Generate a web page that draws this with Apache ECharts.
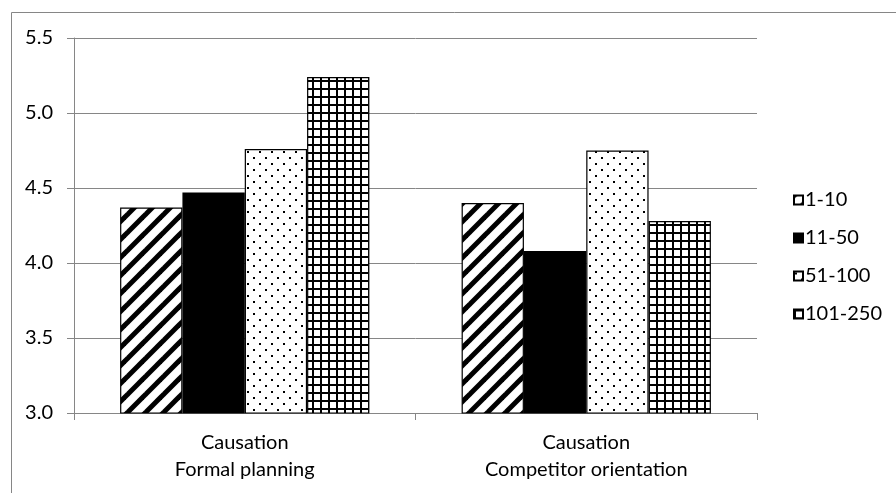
<!DOCTYPE html>
<html>
<head>
<meta charset="utf-8">
<script src="https://cdn.jsdelivr.net/npm/echarts@6/dist/echarts.min.js"></script>
<style>html,body{margin:0;padding:0;background:#fff;}#c{width:896px;height:493px;}</style>
</head>
<body>
<div id="c"></div>
<script>
var categories = ['Causation\nFormal planning', 'Causation\nCompetitor orientation'];
var seriesNames = ['1-10', '11-50', '51-100', '101-250'];
var values1to10 = [4.37, 4.40];
var values11to50 = [4.47, 4.08];
var values51to100 = [4.76, 4.75];
var values101to250 = [5.24, 4.28];
var yTicks = [3.0, 3.5, 4.0, 4.5, 5.0, 5.5];

function makeCanvas(w, h, draw) {
  var c = document.createElement('canvas');
  c.width = w; c.height = h;
  var ctx = c.getContext('2d');
  ctx.fillStyle = '#fff';
  ctx.fillRect(0, 0, w, h);
  draw(ctx, w, h);
  return c;
}
var stripes = makeCanvas(18, 18, function (ctx, w, h) {
  ctx.strokeStyle = '#000';
  ctx.lineWidth = 5;
  for (var k = -1; k <= 1; k++) {
    ctx.beginPath();
    ctx.moveTo(-2 + k * w, h + 2);
    ctx.lineTo(w + 2 + k * w, -2);
    ctx.stroke();
  }
});
var dots = makeCanvas(12, 12, function (ctx) {
  ctx.fillStyle = '#000';
  ctx.fillRect(1, 1, 2, 2);
  ctx.fillRect(7, 7, 2, 2);
});
var grid = makeCanvas(8, 8, function (ctx) {
  ctx.fillStyle = '#000';
  ctx.fillRect(0, 0, 8, 2);
  ctx.fillRect(0, 0, 2, 8);
});

var fills = [
  { image: stripes, repeat: 'repeat' },
  '#000',
  { image: dots, repeat: 'repeat' },
  { image: grid, repeat: 'repeat' }
];
var dataSets = [values1to10, values11to50, values51to100, values101to250];

var font = 'Lato, Liberation Sans, sans-serif';
var gray = '#868686';

var series = seriesNames.map(function (n, i) {
  return {
    name: n,
    type: 'bar',
    data: dataSets[i],
    barGap: '0%',
    barCategoryGap: '27%',
    itemStyle: { color: fills[i], borderColor: '#000', borderWidth: 1.2 },
    emphasis: { disabled: true },
    animation: false
  };
});

var chart = echarts.init(document.getElementById('c'), null, { renderer: 'canvas' });
chart.setOption({
  animation: false,
  backgroundColor: '#fff',
  grid: { left: 74, right: 139, top: 38, bottom: 80, containLabel: false },
  legend: {
    orient: 'vertical',
    left: 788,
    top: 184,
    itemWidth: 9,
    itemHeight: 9,
    itemGap: 16,
    icon: 'rect',
    textStyle: { fontFamily: font, fontSize: 20, lineHeight: 22, color: '#000', padding: [0, 0, 0, -3] },
    data: seriesNames
  },
  xAxis: {
    type: 'category',
    data: categories,
    axisLine: { show: true, lineStyle: { color: gray, width: 1 } },
    axisTick: { show: true, length: 7, alignWithLabel: false, lineStyle: { color: gray } },
    axisLabel: { color: '#000', fontFamily: font, fontSize: 20, lineHeight: 27, margin: 16 }
  },
  yAxis: {
    type: 'value',
    min: 3.0,
    max: 5.5,
    interval: 0.5,
    axisLine: { show: true, lineStyle: { color: gray, width: 1 } },
    axisTick: { show: true, length: 7, lineStyle: { color: gray } },
    splitLine: { show: true, lineStyle: { color: gray, width: 1 } },
    axisLabel: {
      color: '#000', fontFamily: font, fontSize: 20, margin: 21,
      formatter: function (v) { return yTicks.indexOf(v) >= 0 ? v.toFixed(1) : ''; }
    }
  },
  graphic: [{
    type: 'rect',
    shape: { x: 11.5, y: 12.5, width: 1000, height: 1000 },
    style: { fill: 'none', stroke: gray, lineWidth: 1 },
    silent: true
  }],
  series: series
});
</script>
</body>
</html>
